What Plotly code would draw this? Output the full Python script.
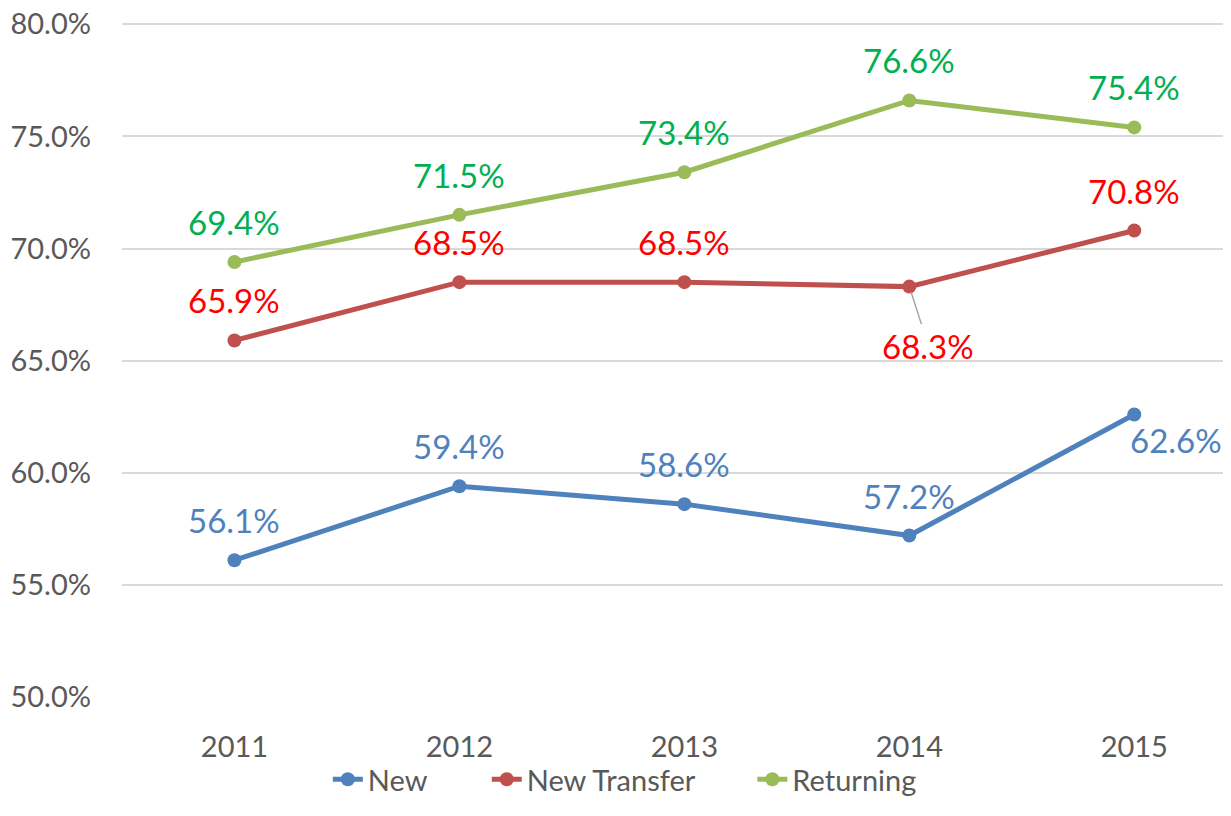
import plotly.graph_objects as go

years = ['2011', '2012', '2013', '2014', '2015']
new = [0.561, 0.594, 0.586, 0.572, 0.626]
new_transfer = [0.659, 0.685, 0.685, 0.683, 0.708]
returning = [0.694, 0.715, 0.734, 0.766, 0.754]

series = [
    ('New', new, '#4F81BD', '#4F81BD'),
    ('New Transfer', new_transfer, '#C0504D', '#FF0000'),
    ('Returning', returning, '#9BBB59', '#00B050'),
]

# label offsets in px (xshift, yshift); default sits above the point
label_shift = {
    ('New', 4): (42, -26),
}

# each series gets its own legend box so the spacing can follow the original
legend_x = [0.1856, 0.3289, 0.5684]
legend_ids = ['legend', 'legend2', 'legend3']

fig = go.Figure()
annotations = []

for k, (name, vals, color, label_color) in enumerate(series):
    fig.add_trace(go.Scatter(
        x=list(range(len(years))),
        y=vals,
        mode='lines+markers',
        name=name,
        legend=legend_ids[k],
        line=dict(color=color, width=5),
        marker=dict(color=color, size=14),
    ))
    for i, v in enumerate(vals):
        if name == 'New Transfer' and i == 3:
            # label below with a leader line
            annotations.append(dict(
                x=i, y=v, text=f'{v:.1%}', showarrow=True,
                arrowhead=0, arrowwidth=1.5, arrowcolor='#A6A6A6',
                ax=19, ay=59, standoff=6,
                font=dict(color=label_color, size=33),
            ))
            continue
        dx, dy = label_shift.get((name, i), (0, 40))
        annotations.append(dict(
            x=i, y=v, text=f'{v:.1%}', showarrow=False,
            xshift=dx, yshift=dy,
            font=dict(color=label_color, size=33),
        ))

legend_style = dict(orientation='h', xanchor='left', y=-0.122, yanchor='middle',
                    font=dict(size=29, color='#595959'),
                    bgcolor='rgba(0,0,0,0)')

# the page body has an 8px margin; size the figure so no scrollbars appear
fig.update_layout(
    width=1223,
    height=796,
    margin=dict(l=114, r=0, t=14, b=107, autoexpand=False),
    plot_bgcolor='white',
    paper_bgcolor='white',
    font=dict(family='Lato', size=29, color='#595959'),
    showlegend=True,
    legend=dict(x=legend_x[0], **legend_style),
    legend2=dict(x=legend_x[1], **legend_style),
    legend3=dict(x=legend_x[2], **legend_style),
    annotations=annotations,
)

fig.update_xaxes(
    tickvals=list(range(len(years))),
    ticktext=years,
    range=[-0.5, 4.43],
    showgrid=False,
    zeroline=False,
    showline=False,
    automargin=False,
    ticklabelstandoff=30,
)

fig.update_yaxes(
    range=[0.5, 0.801],
    tickvals=[0.5, 0.55, 0.6, 0.65, 0.7, 0.75, 0.8],
    tickformat='.1%',
    gridcolor='#D9D9D9',
    gridwidth=1.5,
    zeroline=False,
    showline=False,
    automargin=False,
    ticklabelstandoff=30,
    ticklabeloverflow='allow',
)

fig.write_html("out.html")
